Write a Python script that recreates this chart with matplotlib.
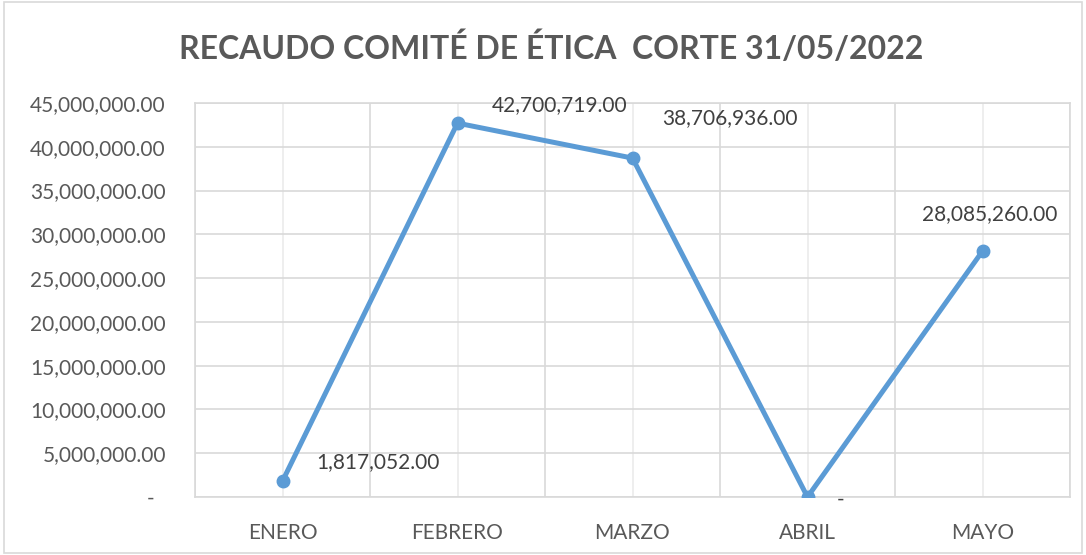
import matplotlib
matplotlib.use("Agg")
import matplotlib.pyplot as plt
from matplotlib.ticker import FuncFormatter, MultipleLocator
from matplotlib.patches import Rectangle

months = ["ENERO", "FEBRERO", "MARZO", "ABRIL", "MAYO"]
values = [1817052.00, 42700719.00, 38706936.00, 0.00, 28085260.00]
title = "RECAUDO COMITÉ DE ÉTICA  CORTE 31/05/2022"

plt.rcParams['font.family'] = ['Lato', 'DejaVu Sans']
text_color = "#595959"
line_color = "#5B9BD5"

fig = plt.figure(figsize=(10.86, 5.55), dpi=100)
ax = fig.add_axes([195/1086, 1-497/555, (1070-195)/1086, (497-103)/555])

x = list(range(len(months)))
ax.plot(x, values, color=line_color, lw=3.6, marker='o', ms=9, zorder=3,
        solid_capstyle='round')

ax.set_xlim(-0.5, len(months)-0.5)
ax.set_ylim(0, 45000000)
ax.yaxis.set_major_locator(MultipleLocator(5000000))

def fmt(v, pos=None):
    if abs(v) < 0.5:
        return "-  "
    return f"{v:,.2f}"
ax.yaxis.set_major_formatter(FuncFormatter(fmt))

ax.set_xticks(x)
ax.set_xticklabels(months)
ax.set_xticks([i + 0.5 for i in range(-1, len(months))], minor=True)

ax.grid(True, which='major', axis='y', color='#D9D9D9', lw=1.2)
ax.grid(True, which='minor', axis='x', color='#D9D9D9', lw=1.2)
ax.grid(True, which='major', axis='x', color='#EBEBEB', lw=1.2)
for s in ax.spines.values():
    s.set_color('#D9D9D9')
    s.set_linewidth(1.2)
ax.tick_params(axis='both', which='both', length=0, colors=text_color, labelsize=15)
ax.tick_params(axis='y', pad=21)
ax.tick_params(axis='x', pad=19)
ax.set_axisbelow(True)

# data labels (offsets in points)
offsets = [(24.5, 13.7, 'left', 'center'),
           (25, 13, 'left', 'center'),
           (21.6, 28.8, 'left', 'center'),
           (21, -2, 'left', 'center'),
           (5, 26.6, 'center', 'center')]
for xi, v, (dx, dy, ha, va) in zip(x, values, offsets):
    lab = "-" if v == 0 else f"{v:,.2f}"
    ax.annotate(lab, (xi, v), xytext=(dx, dy), textcoords='offset points',
                ha=ha, va=va, fontsize=15, color='#404040')

fig.text(551/1086, 1-48/555, title, ha='center', va='center', fontsize=23,
         fontweight='bold', color=text_color)

fig.patches.append(Rectangle((4/1086, 2/555), 1-8/1086, 1-4/555, transform=fig.transFigure,
                             fill=False, edgecolor='#D9D9D9', lw=1.2))

fig.savefig("out.png", dpi=100)
